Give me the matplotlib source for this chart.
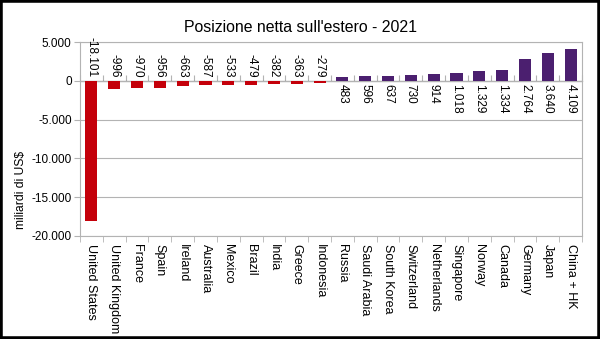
import matplotlib.pyplot as plt
from matplotlib.patches import Rectangle
import numpy as np

# --- data ---
countries = ["United States", "United Kingdom", "France", "Spain", "Ireland",
             "Australia", "Mexico", "Brazil", "India", "Greece", "Indonesia",
             "Russia", "Saudi Arabia", "South Korea", "Switzerland", "Netherlands",
             "Singapore", "Norway", "Canada", "Germany", "Japan", "China + HK"]
values = [-18101, -996, -970, -956, -663, -587, -533, -479, -382, -363, -279,
          483, 596, 637, 730, 914, 1018, 1329, 1334, 2764, 3640, 4109]
y_ticks = [5000, 0, -5000, -10000, -15000, -20000]

RED = "#c4000a"
PURPLE = "#4b1f6f"
GRID = "#b3b3b3"

plt.rcParams["font.family"] = ["Liberation Sans", "DejaVu Sans"]


def it_fmt(v):
    # italian thousands separator
    return f"{v:,.0f}".replace(",", ".")


fig = plt.figure(figsize=(6, 3.39), dpi=100)
ax = fig.add_axes([0.1333, 0.304, 0.8367, 0.572])

x = np.arange(len(countries))
colors = [RED if v < 0 else PURPLE for v in values]
ax.bar(x, values, width=0.53, color=colors, zorder=3)

# value labels on the opposite side of the zero line
for xi, v in zip(x, values):
    if v < 0:
        ax.annotate(it_fmt(v), (xi, 0), xytext=(0, 2.5), textcoords="offset points",
                    rotation=-90, ha="center", va="bottom", fontsize=8.5,
                    annotation_clip=False)
    else:
        ax.annotate(it_fmt(v), (xi, 0), xytext=(0, -2.5), textcoords="offset points",
                    rotation=-90, ha="center", va="top", fontsize=8.5)

ax.set_xlim(-0.5, len(countries) - 0.5)
ax.set_ylim(-20000, 5000)
ax.set_yticks(y_ticks)
ax.set_yticklabels([it_fmt(v) for v in y_ticks], fontsize=8.5)
ax.yaxis.grid(True, color=GRID, linewidth=0.8, zorder=0)
ax.tick_params(axis="y", length=4, color=GRID, pad=2)

ax.set_xticks(x)
ax.set_xticklabels(countries, rotation=-90, fontsize=9, va="top", ha="center")
ax.set_xticks(np.arange(len(countries) + 1) - 0.5, minor=True)
ax.tick_params(axis="x", which="major", length=0, pad=6)
ax.tick_params(axis="x", which="minor", length=4, color=GRID)

# category ticks along the zero line
sec = ax.secondary_xaxis(0.8)
sec.set_xticks(np.arange(len(countries) + 1) - 0.5)
sec.set_xticklabels([])
sec.tick_params(length=4, color=GRID)
sec.spines["bottom"].set_color(GRID)

for sp in ax.spines.values():
    sp.set_color(GRID)
    sp.set_linewidth(0.8)

ax.set_ylabel("miliardi di US$", fontsize=8.7)
ax.yaxis.set_label_coords(-0.105, 0.235)
fig.text(0.5, 0.92, "Posizione netta sull'estero - 2021", ha="center",
         va="center", fontsize=11.4)

# black frame around the picture
fig.patches.append(Rectangle((0, 0), 1, 1, transform=fig.transFigure,
                             fill=False, edgecolor="black", linewidth=4))

fig.savefig("out.png", dpi=100)
